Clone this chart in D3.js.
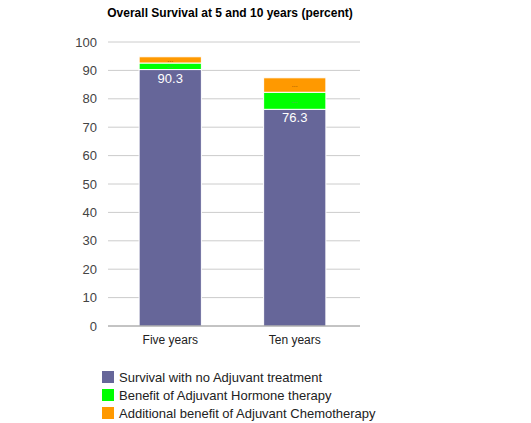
<!DOCTYPE html>
<html>
<head>
<meta charset="utf-8">
<script src="https://cdn.jsdelivr.net/npm/d3@7"></script>
<style>
  body { margin: 0; background: #fff; }
  text { font-family: "Liberation Sans", Arial, sans-serif; }
</style>
</head>
<body>
<svg id="chart" width="531" height="423"></svg>
<script>
const categories = ['Five years', 'Ten years'];
const seriesNames = ['Survival with no Adjuvant treatment', 'Benefit of Adjuvant Hormone therapy', 'Additional benefit of Adjuvant Chemotherapy'];
const noTreatment = [90.3, 76.3];
const hormoneBenefit = [2.3, 6.0];
const chemoBenefit = [2.2, 5.1];
const yTicks = [0, 10, 20, 30, 40, 50, 60, 70, 80, 90, 100];
const colors = ['#666699', '#00ff00', '#ff9900'];

const svg = d3.select('#chart');

// build rows for the stack
const rows = categories.map((c, i) => ({
  cat: c, s0: noTreatment[i], s1: hormoneBenefit[i], s2: chemoBenefit[i]
}));
const stack = d3.stack().keys(['s0', 's1', 's2'])(rows);

const x = d3.scaleBand().domain(categories).range([108, 357]).paddingInner(0.5).paddingOuter(0.25);
const y = d3.scaleLinear().domain([0, 100]).range([326, 42]);

svg.append('text')
  .attr('x', 230).attr('y', 17)
  .attr('text-anchor', 'middle')
  .style('font-size', '12px').style('font-weight', 'bold')
  .text('Overall Survival at 5 and 10 years (percent)');

// gridlines
svg.append('g').selectAll('line')
  .data(yTicks.filter(d => d > 0))
  .enter().append('line')
  .attr('x1', 108).attr('x2', 360)
  .attr('y1', d => y(d)).attr('y2', d => y(d))
  .attr('stroke', '#cccccc').attr('stroke-width', 1);

// tick labels
svg.append('g').selectAll('text')
  .data(yTicks)
  .enter().append('text')
  .attr('x', 97).attr('y', d => y(d))
  .attr('dy', '0.35em')
  .attr('text-anchor', 'end')
  .style('font-size', '13px').style('fill', '#444')
  .text(d => d);

const groups = svg.append('g').selectAll('g')
  .data(stack)
  .enter().append('g')
  .attr('fill', (d, i) => colors[i]);

groups.selectAll('rect')
  .data(d => d)
  .enter().append('rect')
  .attr('x', d => x(d.data.cat))
  .attr('width', x.bandwidth())
  .attr('y', d => y(d[1]))
  .attr('height', d => y(d[0]) - y(d[1]))
  .attr('stroke', '#fff').attr('stroke-width', 1);

// value labels (small segments only show an ellipsis)
groups.each(function(s, si) {
  d3.select(this).selectAll('text')
    .data(s)
    .enter().append('text')
    .attr('x', d => x(d.data.cat) + x.bandwidth() / 2)
    .attr('y', d => si === 0 ? y(d[1]) + 13 : (y(d[0]) + y(d[1])) / 2 + 2)
    .attr('text-anchor', 'middle')
    .style('font-size', si === 0 ? '13px' : '7px')
    .style('fill', si === 0 ? '#fff' : (si === 1 ? '#888' : '#8a4a00'))
    .text(d => si === 0 ? d.data.s0 : '...');
});

// baseline
svg.append('line')
  .attr('x1', 108).attr('x2', 360)
  .attr('y1', y(0)).attr('y2', y(0))
  .attr('stroke', '#888').attr('stroke-width', 1);

// category labels
svg.append('g').selectAll('text')
  .data(categories)
  .enter().append('text')
  .attr('x', d => x(d) + x.bandwidth() / 2)
  .attr('y', 344)
  .attr('text-anchor', 'middle')
  .style('font-size', '12px').style('fill', '#222')
  .text(d => d);

// legend
const legend = svg.append('g').selectAll('g')
  .data(seriesNames)
  .enter().append('g')
  .attr('transform', (d, i) => `translate(102,${371 + i * 18})`);
legend.append('rect')
  .attr('width', 12).attr('height', 12)
  .attr('fill', (d, i) => colors[i]);
legend.append('text')
  .attr('x', 17).attr('y', 11)
  .style('font-size', '13px').style('fill', '#222')
  .text(d => d);
</script>
</body>
</html>
